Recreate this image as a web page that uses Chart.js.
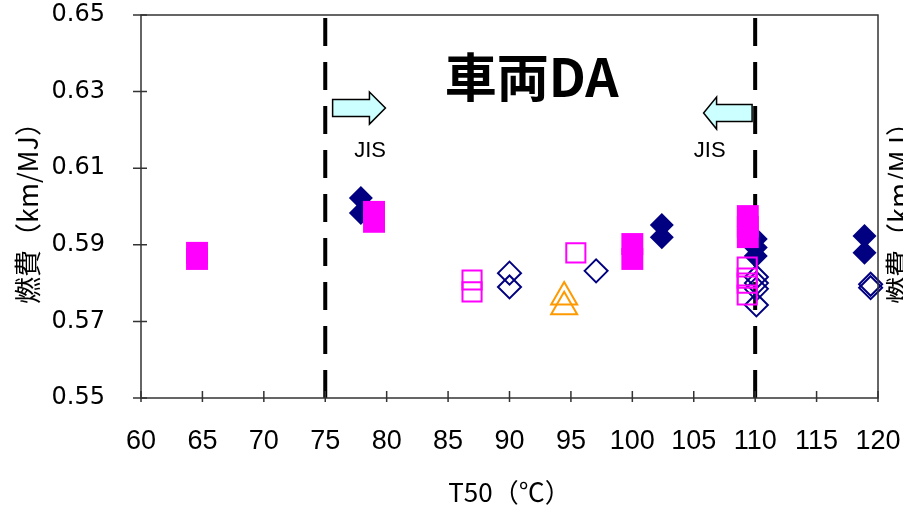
<!DOCTYPE html>
<html>
<head>
    <title>車両DA - T50 vs 燃費</title>
    <script src="https://cdn.jsdelivr.net/npm/chart.js@4.4.1/dist/chart.umd.min.js"></script>
    <style type="text/css">
        body { margin: 0; background: #fff; }
        #chart-container { width: 903px; height: 505px; }
    </style>
</head>
<body>
    <div id="chart-container">
        <canvas id="mycanvas"></canvas>
    </div>

    <script>
        // T50 (deg C) / fuel economy (km/MJ)
        var filledDiamondX = [77.9, 77.9, 102.4, 102.4, 110.05, 110.05, 110.05, 118.9, 118.9];
        var filledDiamondY = [0.6022, 0.5983, 0.5952, 0.5920, 0.5915, 0.5893, 0.5871, 0.5923, 0.5879];

        var openDiamondX = [90.0, 90.0, 97.05, 110.1, 110.1, 110.1, 110.1, 119.4, 119.4];
        var openDiamondY = [0.5826, 0.5790, 0.5832, 0.5816, 0.5800, 0.5785, 0.5743, 0.5797, 0.5788];

        var triangleX = [94.45, 94.45];
        var triangleY = [0.5764, 0.5738];

        var openSquareX = [86.95, 86.95, 95.4, 109.35, 109.35, 109.35, 109.35];
        var openSquareY = [0.5808, 0.5777, 0.5879, 0.5842, 0.5813, 0.5800, 0.5769];

        var filledSquareX = [64.56, 64.56, 78.97, 78.97, 100.0, 100.0, 109.4, 109.4, 109.4];
        var filledSquareY = [0.5879, 0.5863, 0.5986, 0.5960, 0.5902, 0.5863, 0.5975, 0.5947, 0.5920];

        var jisLimits = [75, 110];
        var chartTitle = "車両DA";
        var yTitle = "燃費（km/MJ）";
        var xTitle = "T50（℃）";

        var toPoints = function (xs, ys) {
            return xs.map(function (v, i) { return { x: v, y: ys[i] }; });
        };

        var drawArrow = function (ctx, tailX, tipX, cy, head) {
            var dir = tipX > tailX ? 1 : -1;
            var baseX = tipX - dir * head;
            ctx.beginPath();
            ctx.moveTo(tailX, cy - 8.5);
            ctx.lineTo(baseX, cy - 8.5);
            ctx.lineTo(baseX, cy - 16);
            ctx.lineTo(tipX, cy);
            ctx.lineTo(baseX, cy + 16);
            ctx.lineTo(baseX, cy + 8.5);
            ctx.lineTo(tailX, cy + 8.5);
            ctx.closePath();
            ctx.fillStyle = "#ccffff";
            ctx.fill();
            ctx.lineWidth = 1.5;
            ctx.strokeStyle = "#000";
            ctx.stroke();
        };

        var decor = {
            id: "decor",
            beforeDatasetsDraw: function (chart) {
                var ctx = chart.ctx, a = chart.chartArea, x = chart.scales.x;
                ctx.save();
                ctx.strokeStyle = "#000";
                ctx.lineWidth = 4;
                ctx.setLineDash([28, 16]);
                jisLimits.forEach(function (v) {
                    var px = x.getPixelForValue(v);
                    ctx.beginPath();
                    ctx.moveTo(px, a.bottom);
                    ctx.lineTo(px, a.top);
                    ctx.stroke();
                });
                ctx.restore();
            },
            afterDatasetsDraw: function (chart) {
                var ctx = chart.ctx, a = chart.chartArea, x = chart.scales.x, y = chart.scales.y;
                ctx.save();

                // plot frame and tick marks
                ctx.strokeStyle = "#333";
                ctx.lineWidth = 1.5;
                ctx.strokeRect(a.left, a.top, a.right - a.left, a.bottom - a.top);
                ctx.beginPath();
                y.ticks.forEach(function (t) {
                    var py = y.getPixelForValue(t.value);
                    ctx.moveTo(a.left - 8, py);
                    ctx.lineTo(a.left + 6, py);
                });
                x.ticks.forEach(function (t) {
                    var px = x.getPixelForValue(t.value);
                    ctx.moveTo(px, a.bottom - 7);
                    ctx.lineTo(px, a.bottom + 4);
                });
                ctx.stroke();

                // JIS arrows
                drawArrow(ctx, x.getPixelForValue(75.6), x.getPixelForValue(79.9), y.getPixelForValue(0.6257), 16);
                drawArrow(ctx, x.getPixelForValue(109.75), x.getPixelForValue(105.8), y.getPixelForValue(0.6244), 13);

                ctx.fillStyle = "#000";
                ctx.textAlign = "center";
                ctx.textBaseline = "middle";
                ctx.font = "22px 'Liberation Sans'";
                ctx.fillText("JIS", x.getPixelForValue(78.65), y.getPixelForValue(0.6145));
                ctx.fillText("JIS", x.getPixelForValue(106.3), y.getPixelForValue(0.6145));

                ctx.font = "bold 52px 'Noto Sans CJK JP'";
                ctx.fillText(chartTitle, x.getPixelForValue(91.8), y.getPixelForValue(0.6338));

                // second (cut off) axis title at the right edge
                ctx.font = "27px 'Noto Sans CJK JP'";
                ctx.translate(899, (a.top + a.bottom) / 2);
                ctx.rotate(-Math.PI / 2);
                ctx.fillText(yTitle, 0, 0);
                ctx.restore();
            }
        };

        var ctx = document.getElementById("mycanvas");

        var scatter = new Chart(ctx, {
            type: "scatter",
            data: {
                datasets: [
                    {
                        data: toPoints(filledSquareX, filledSquareY),
                        pointStyle: "rect",
                        pointRadius: 15.5,
                        backgroundColor: "#ff00ff",
                        borderColor: "#ff00ff",
                        borderWidth: 0,
                        clip: false,
                    },
                    {
                        data: toPoints(openSquareX, openSquareY),
                        pointStyle: "rect",
                        pointRadius: 13.5,
                        backgroundColor: "rgba(0,0,0,0)",
                        borderColor: "#ff00ff",
                        borderWidth: 2,
                        clip: false,
                    },
                    {
                        data: toPoints(triangleX, triangleY),
                        pointStyle: "triangle",
                        pointRadius: 15,
                        backgroundColor: "rgba(0,0,0,0)",
                        borderColor: "#ff9900",
                        borderWidth: 2,
                        clip: false,
                    },
                    {
                        data: toPoints(filledDiamondX, filledDiamondY),
                        pointStyle: "rectRot",
                        pointRadius: 12,
                        backgroundColor: "#000080",
                        borderColor: "#000080",
                        borderWidth: 0,
                        clip: false,
                    },
                    {
                        data: toPoints(openDiamondX, openDiamondY),
                        pointStyle: "rectRot",
                        pointRadius: 11.5,
                        backgroundColor: "rgba(0,0,0,0)",
                        borderColor: "#000080",
                        borderWidth: 2,
                        clip: false,
                    },
                ],
            },
            options: {
                responsive: true,
                maintainAspectRatio: false,
                animation: false,
                events: [],
                layout: { autoPadding: false, padding: { left: 0, right: 25, top: 15, bottom: 0 } },
                plugins: {
                    legend: { display: false },
                    tooltip: { enabled: false },
                },
                scales: {
                    x: {
                        type: "linear",
                        min: 60,
                        max: 120,
                        // invisible tick length keeps the labels clear of the axis
                        grid: { drawOnChartArea: false, tickLength: 27, tickColor: "rgba(0,0,0,0)" },
                        border: { display: false },
                        ticks: {
                            stepSize: 5,
                            padding: 0,
                            color: "#000",
                            font: { family: "'Liberation Sans'", size: 27 },
                        },
                        title: {
                            display: true,
                            text: xTitle,
                            color: "#000",
                            padding: { top: 0, bottom: 0 },
                            font: { family: "'Noto Sans CJK JP'", size: 26, lineHeight: 1 },
                        },
                        afterFit: function (axis) { axis.height = 107; },
                    },
                    y: {
                        type: "linear",
                        min: 0.55,
                        max: 0.65,
                        grid: { drawOnChartArea: false, tickLength: 36, tickColor: "rgba(0,0,0,0)" },
                        border: { display: false },
                        ticks: {
                            stepSize: 0.02,
                            padding: 0,
                            color: "#000",
                            font: { family: "'DejaVu Sans'", size: 24 },
                            callback: function (v) { return v.toFixed(2); },
                        },
                        title: {
                            display: true,
                            text: yTitle,
                            color: "#000",
                            padding: { top: 14, bottom: 0 },
                            font: { family: "'Noto Sans CJK JP'", size: 27, lineHeight: 1 },
                        },
                        afterFit: function (axis) { axis.width = 141; },
                    },
                },
            },
            plugins: [decor],
        });
    </script>
</body>
</html>
